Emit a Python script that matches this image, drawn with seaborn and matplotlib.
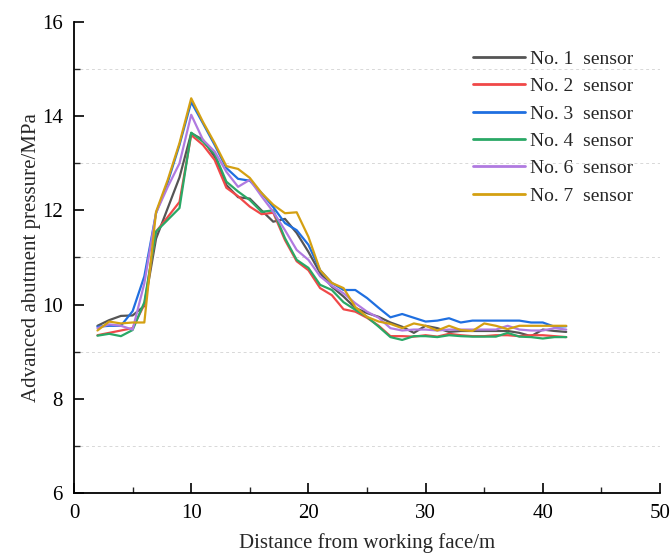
import numpy as np
import pandas as pd
import matplotlib
matplotlib.use("Agg")
import matplotlib.pyplot as plt
from matplotlib.ticker import MultipleLocator
import seaborn as sns

# distance from working face (m)
distance = list(range(2, 43))

# abutment pressure (MPa)
sensor_1 = [9.55, 9.67, 9.76, 9.77, 9.97, 11.4, 12.05, 12.7, 13.64, 13.5, 13.14, 12.54, 12.28, 12.25,
            12.0, 11.76, 11.82, 11.52, 11.12, 10.67, 10.38, 10.17, 9.93, 9.82, 9.74, 9.62, 9.53, 9.4,
            9.55, 9.5, 9.42, 9.44, 9.44, 9.44, 9.44, 9.44, 9.4, 9.33, 9.47, 9.44, 9.42]
sensor_2 = [9.35, 9.4, 9.45, 9.5, 10.0, 11.55, 11.86, 12.18, 13.6, 13.39, 13.07, 12.48, 12.3, 12.08,
            11.92, 11.95, 11.37, 10.92, 10.73, 10.35, 10.2, 9.9, 9.85, 9.72, 9.55, 9.33, 9.33, 9.32,
            9.35, 9.32, 9.38, 9.35, 9.33, 9.33, 9.35, 9.35, 9.33, 9.35, 9.35, 9.33, 9.31]
sensor_3 = [9.53, 9.55, 9.55, 9.86, 10.6, 11.94, 12.6, 13.39, 14.3, 13.85, 13.39, 12.9, 12.67, 12.63,
            12.37, 12.07, 11.73, 11.58, 11.27, 10.73, 10.46, 10.31, 10.31, 10.14, 9.93, 9.73, 9.8, 9.72,
            9.64, 9.66, 9.71, 9.62, 9.66, 9.66, 9.66, 9.66, 9.66, 9.62, 9.62, 9.53, 9.54]
sensor_4 = [9.34, 9.38, 9.33, 9.46, 10.05, 11.55, 11.8, 12.05, 13.65, 13.46, 13.2, 12.61, 12.4, 12.22,
            11.97, 12.0, 11.41, 10.95, 10.78, 10.42, 10.31, 10.05, 9.89, 9.74, 9.53, 9.31, 9.25, 9.33,
            9.33, 9.31, 9.35, 9.33, 9.32, 9.32, 9.32, 9.4, 9.32, 9.31, 9.28, 9.31, 9.31]
sensor_6 = [9.5, 9.58, 9.55, 9.47, 10.45, 11.95, 12.5, 13.0, 14.03, 13.5, 13.25, 12.82, 12.5, 12.65,
            12.3, 11.97, 11.58, 11.16, 10.95, 10.6, 10.4, 10.24, 10.03, 9.85, 9.72, 9.5, 9.45, 9.47,
            9.47, 9.45, 9.47, 9.47, 9.47, 9.47, 9.47, 9.55, 9.47, 9.45, 9.45, 9.5, 9.47]
sensor_7 = [9.45, 9.64, 9.6, 9.62, 9.62, 11.97, 12.65, 13.43, 14.38, 13.88, 13.43, 12.94, 12.88, 12.69,
            12.37, 12.12, 11.94, 11.96, 11.44, 10.73, 10.46, 10.35, 9.95, 9.74, 9.64, 9.59, 9.5, 9.6,
            9.55, 9.45, 9.55, 9.46, 9.44, 9.6, 9.55, 9.48, 9.55, 9.55, 9.55, 9.55, 9.55]

labels = ["No. 1  sensor", "No. 2  sensor", "No. 3  sensor",
          "No. 4  sensor", "No. 6  sensor", "No. 7  sensor"]
colors = ["#555555", "#f04848", "#1f6fe0", "#2aa866", "#b07ae0", "#d4a012"]

series = [sensor_1, sensor_2, sensor_3, sensor_4, sensor_6, sensor_7]
df = pd.concat([pd.DataFrame({"distance": distance, "pressure": s, "sensor": lab})
                for s, lab in zip(series, labels)], ignore_index=True)

sns.set_style("ticks")
plt.rcParams["font.family"] = ["Liberation Serif", "DejaVu Serif"]

fig = plt.figure(figsize=(6.71, 5.54), dpi=100)
ax = fig.add_axes([0.1103, 0.1101, 0.8733, 0.8502])

sns.lineplot(data=df, x="distance", y="pressure", hue="sensor",
             palette=dict(zip(labels, colors)), linewidth=1.6, ax=ax)

ax.set_xlim(0, 50)
ax.set_ylim(6, 16)
ax.xaxis.set_major_locator(MultipleLocator(10))
ax.xaxis.set_minor_locator(MultipleLocator(5))
ax.yaxis.set_major_locator(MultipleLocator(2))
ax.yaxis.set_minor_locator(MultipleLocator(1))
ax.tick_params(which="major", direction="in", length=7, width=1.2, labelsize=15, colors="black")
ax.tick_params(axis="x", which="major", pad=8)
ax.tick_params(axis="y", which="major", pad=8)
ax.tick_params(which="minor", direction="in", length=4, width=1.0)
ax.yaxis.grid(True, which="minor", linestyle=(0, (3, 3)), color="#d8d8d8", linewidth=0.7)
ax.set_axisbelow(True)

for side in ["top", "right"]:
    ax.spines[side].set_visible(False)
for side in ["left", "bottom"]:
    ax.spines[side].set_linewidth(1.3)
    ax.spines[side].set_color("black")

ax.set_xlabel("Distance from working face/m", fontsize=15, labelpad=7)
ax.set_ylabel("Advanced abutment pressure/MPa", fontsize=15, labelpad=1)

leg = ax.legend(loc="upper right", bbox_to_anchor=(0.985, 0.977), frameon=False,
                fontsize=14, handlelength=2.7, handletextpad=0.28, labelspacing=0.5)
for line in leg.get_lines():
    line.set_linewidth(2.0)

fig.savefig("out.png", dpi=100)
